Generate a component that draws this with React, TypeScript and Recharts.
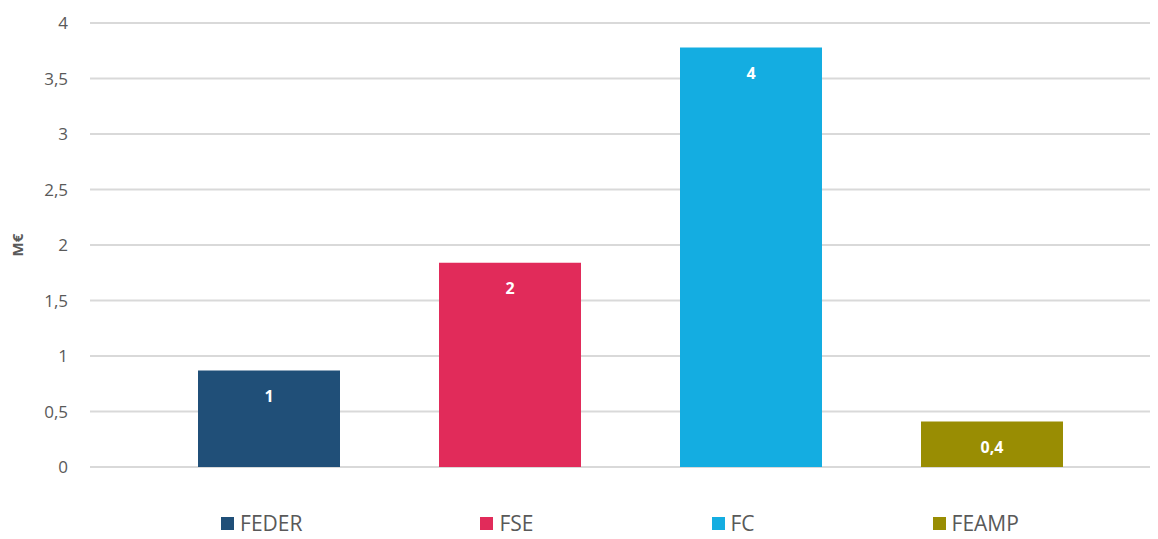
import { BarChart, Bar, XAxis, YAxis, CartesianGrid, Legend, LabelList, Label } from 'recharts';

// Funds (one series each, all in a single category)
const funds = ['FEDER', 'FSE', 'FC', 'FEAMP'];
const amounts = [0.87, 1.84, 3.78, 0.41]; // M€
const fundColors = ['#204F78', '#E12B5A', '#14ADE1', '#998D03'];
const yTicks = [0, 0.5, 1, 1.5, 2, 2.5, 3, 3.5, 4];

const FONT = '"Open Sans", "Noto Sans", sans-serif';
const TEXT = '#595959';

const row: Record<string, number | string> = { name: '' };
funds.forEach((f, i) => {
  row[f] = amounts[i];
});
const chartData = [row];

const fmtComma = (v: number) => String(v).replace('.', ',');
const fmtLabel = (v: any) => {
  const n = Number(v);
  return n >= 0.5 ? String(Math.round(n)) : fmtComma(Number(n.toFixed(1)));
};

function FundLegend() {
  return (
    <div
      style={{
        height: 72,
        display: 'flex',
        justifyContent: 'center',
        alignItems: 'flex-start',
        gap: 178,
        paddingLeft: 70,
        paddingTop: 43,
        boxSizing: 'border-box',
        fontFamily: FONT,
        fontSize: 21,
        color: TEXT,
        lineHeight: '26px',
      }}
    >
      {funds.map((f, i) => (
        <div key={f} style={{ display: 'flex', alignItems: 'center', gap: 6 }}>
          <div style={{ width: 13, height: 13, backgroundColor: fundColors[i] }} />
          <span>{f}</span>
        </div>
      ))}
    </div>
  );
}

export default function App() {
  return (
    <div style={{ margin: -8, width: 1158, height: 539, overflow: 'hidden', background: '#fff' }}>
      <BarChart
        width={1170}
        height={539}
        data={chartData}
        margin={{ top: 23, right: 0, left: 0, bottom: 0 }}
        barSize={142}
        barGap={99}
      >
        <CartesianGrid vertical={false} stroke="#D9D9D9" strokeWidth={2} />
        <XAxis dataKey="name" hide />
        <YAxis
          domain={[0, 4]}
          ticks={yTicks}
          width={90}
          axisLine={false}
          tickLine={false}
          tickSize={0}
          tickMargin={22}
          tickFormatter={fmtComma}
          tick={{ fill: TEXT, fontSize: 17, fontFamily: FONT }}
        >
          <Label
            value="M€"
            position="center"
            angle={-90}
            dx={-27}
            style={{ fill: TEXT, fontSize: 15, fontWeight: 700, fontFamily: FONT }}
          />
        </YAxis>
        <Legend verticalAlign="bottom" height={72} content={() => <FundLegend />} />
        {funds.map((f, i) => (
          <Bar key={f} dataKey={f} fill={fundColors[i]} isAnimationActive={false}>
            <LabelList
              dataKey={f}
              position="insideTop"
              offset={20}
              formatter={fmtLabel}
              style={{ fill: '#fff', fontSize: 16, fontWeight: 700, fontFamily: FONT }}
            />
          </Bar>
        ))}
      </BarChart>
    </div>
  );
}
